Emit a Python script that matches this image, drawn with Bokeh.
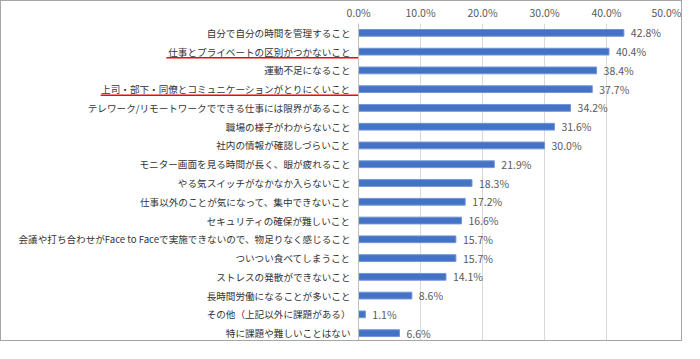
from bokeh.plotting import figure
from bokeh.models import ColumnDataSource, Range1d, FixedTicker, PrintfTickFormatter, Span
from bokeh.core.properties import value
from bokeh.embed import file_html
from bokeh.resources import INLINE

categories = [
    "自分で自分の時間を管理すること",
    "仕事とプライベートの区別がつかないこと",
    "運動不足になること",
    "上司・部下・同僚とコミュニケーションがとりにくいこと",
    "テレワーク/リモートワークでできる仕事には限界があること",
    "職場の様子がわからないこと",
    "社内の情報が確認しづらいこと",
    "モニター画面を見る時間が長く、眼が疲れること",
    "やる気スイッチがなかなか入らないこと",
    "仕事以外のことが気になって、集中できないこと",
    "セキュリティの確保が難しいこと",
    "会議や打ち合わせがFace to Faceで実施できないので、物足りなく感じること",
    "ついつい食べてしまうこと",
    "ストレスの発散ができないこと",
    "長時間労働になることが多いこと",
    "その他（上記以外に課題がある）",
    "特に課題や難しいことはない",
]
values = [42.8, 40.4, 38.4, 37.7, 34.2, 31.6, 30.0, 21.9, 18.3, 17.2, 16.6, 15.7, 15.7, 14.1, 8.6, 1.1, 6.6]
tick_values = [0, 10, 20, 30, 40, 50]
underlined_rows = [1, 3]
underline_start = [-31.0, -41.6]

FONT = "Noto Sans CJK JP"
n = len(categories)
idx = list(range(n))
src = ColumnDataSource(dict(
    y=idx, v=values, cat=categories,
    lab=[f"{v:.1f}%" for v in values],
))

p = figure(width=682, height=341, output_backend="svg", toolbar_location=None,
           x_range=Range1d(-57.6, 50), y_range=Range1d(n - 0.5, -0.5),
           x_axis_location="above", min_border_left=0, min_border_right=15,
           min_border_top=0, min_border_bottom=0,
           styles={"border": "1px solid #a6a6a6"})
p.outline_line_color = None
p.yaxis.visible = False
p.ygrid.visible = False
p.xaxis.ticker = FixedTicker(ticks=tick_values)
p.xaxis.formatter = PrintfTickFormatter(format="%.1f%%")
p.xaxis.axis_line_color = None
p.xaxis.major_tick_line_color = None
p.xaxis.minor_tick_line_color = None
p.xaxis.major_tick_out = 0
p.xaxis.major_tick_in = 0
p.xaxis.major_label_text_font = FONT
p.xaxis.major_label_text_font_size = "10.5px"
p.xaxis.major_label_text_color = "#595959"
p.xaxis.major_label_standoff = 4
p.xgrid.ticker = FixedTicker(ticks=tick_values)
p.xgrid.grid_line_color = "#d9d9d9"

p.add_layout(Span(location=0, dimension="height", line_color="#bfbfbf", line_width=1))

p.hbar(y="y", right="v", left=0, height=0.36, source=src,
       fill_color="#4472C4", line_color="#6f95d8", line_width=1)

p.text(x=0, y="y", text="cat", source=src, x_offset=-8,
       text_align="right", text_baseline="middle",
       text_font=value(FONT), text_font_size="9.6px", text_color="#333333")
p.text(x="v", y="y", text="lab", source=src, x_offset=7,
       text_align="left", text_baseline="middle",
       text_font=value(FONT), text_font_size="10.5px", text_color="#595959")

p.segment(x0=underline_start, x1=[0] * len(underlined_rows),
          y0=[r + 0.32 for r in underlined_rows], y1=[r + 0.32 for r in underlined_rows],
          line_color="#ff0000", line_width=1.5)

open("out.html", "w").write(file_html(p, INLINE))
